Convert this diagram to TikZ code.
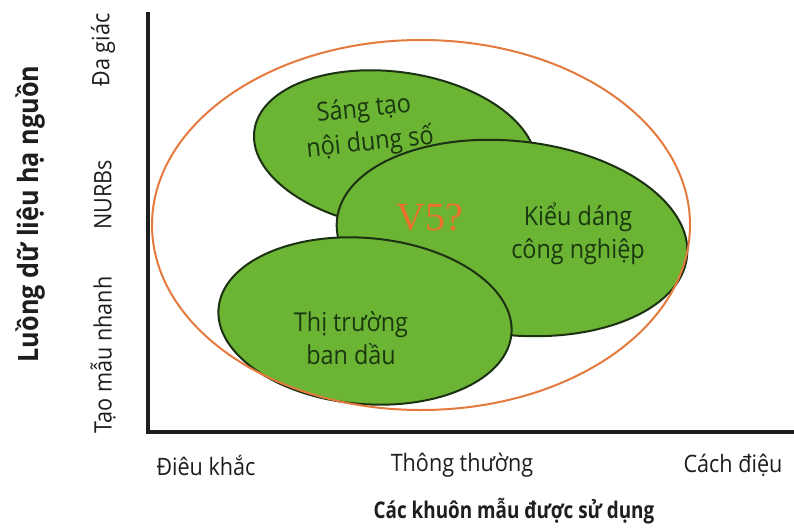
\documentclass[tikz,border=0pt]{standalone}
\usepackage{fontspec}
\setmainfont{Open Sans}[FakeStretch=0.9]
\newfontfamily\tightfont{Open Sans}[FakeStretch=0.82]
\newfontfamily\vfont{Liberation Serif}
\definecolor{leaf}{RGB}{108,180,52}
\definecolor{leafline}{RGB}{28,48,18}
\definecolor{leaftext}{RGB}{26,56,16}
\definecolor{ring}{RGB}{228,122,62}
\definecolor{vcol}{RGB}{236,112,42}
\definecolor{ink}{RGB}{30,30,30}
\tikzset{
  blob/.style={fill=leaf,draw=leafline,line width=2pt},
  blobtext/.style={text=leaftext,align=center,font=\fontsize{26}{33}\selectfont,inner sep=0},
  axisline/.style={draw=ink,line width=3.5pt},
  ticklab/.style={text=ink,font=\fontsize{24}{28}\selectfont,inner sep=0},
  axtitle/.style={text=ink,font=\tightfont\bfseries\fontsize{23}{26}\selectfont,inner sep=0},
}
\begin{document}
\begin{tikzpicture}[x=1pt,y=-1pt]
\useasboundingbox (0,0) rectangle (794,527);
\fill[white] (0,0) rectangle (794,527);
% axes
\coordinate (top) at (148,12);
\coordinate (corner) at (148,432);
\coordinate (right) at (794,432);
\draw[axisline] (top) -- (corner) -- (right);
% green ellipses
\path[blob, rotate around={-8:(395,150)}] (395,150) ellipse [x radius=142, y radius=78];
\path[blob, rotate around={-6:(512,238)}] (512,238) ellipse [x radius=176, y radius=97];
\path[blob, rotate around={-5:(365,321)}] (365,321) ellipse [x radius=147, y radius=83];
% orange ring
\draw[ring, line width=2pt] (421,225) ellipse [x radius=269, y radius=185];
% texts in ellipses
\node[blobtext, rotate=6] (digital1) at (364,110) {Sáng tạo};
\node[blobtext, rotate=6] (digital2) at (370,143) {nội dung số};
\node[blobtext] (industrial) at (578,234) {Kiểu dáng\\công nghiệp};
\node[blobtext] (market) at (351,338) {Thị trường\\ban dầu};
\node[text=vcol, font=\vfont\fontsize{40}{44}\selectfont, inner sep=0] (v5) at (430,218) {V5?};
% y axis labels
\node[ticklab, rotate=90] (ty1) at (103,355) {Tạo mẫu nhanh};
\node[ticklab, rotate=90] (ty2) at (103,195) {NURBs};
\node[ticklab, rotate=90] (ty3) at (103,50) {Đa giác};
\node[text=ink, inner sep=0, rotate=90, font=\bfseries\fontsize{28}{30}\selectfont] (ytitle) at (30,214) {Luồng dữ liệu hạ nguồn};
% x axis labels
\node[ticklab] (tx1) at (206,465) {Điêu khắc};
\node[ticklab] (tx2) at (462,465) {Thông thường};
\node[ticklab] (tx3) at (733,465) {Cách điệu};
\node[axtitle] (xtitle) at (514,511) {Các khuôn mẫu được sử dụng};
\end{tikzpicture}
\end{document}
